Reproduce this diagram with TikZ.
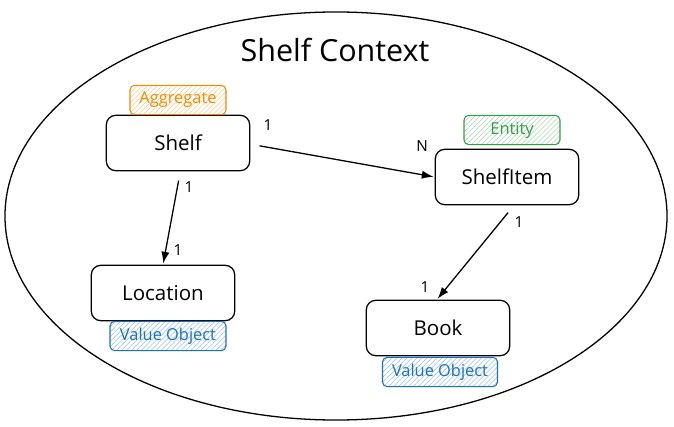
\documentclass[tikz,border=0pt]{standalone}
\usepackage{fontspec}
\setmainfont{Open Sans}
\usepackage{tikz}
\usetikzlibrary{positioning,arrows.meta,patterns.meta}

\definecolor{aggcol}{HTML}{F08C00}
\definecolor{entcol}{HTML}{2F9E44}
\definecolor{vocol}{HTML}{1971C2}

\begin{document}
\begin{tikzpicture}[
  x=0.03cm, y=0.03cm,
  >={Latex[length=10pt, width=7pt]},
  box/.style={draw, line width=1.1pt, rounded corners=8pt, align=center,
              minimum width=4.3cm, minimum height=1.66cm, font=\fontsize{17.5}{20}\selectfont},
  tag/.style={draw=#1, text=#1, line width=0.9pt, rounded corners=4pt,
              pattern={Lines[angle=45,distance=3pt,line width=0.45pt]}, pattern color=#1!45,
              minimum height=0.88cm, inner sep=2pt, font=\fontsize{14}{16}\selectfont},
  rel/.style={->, line width=1.1pt, shorten <=8pt, shorten >=1pt},
  card/.style={font=\fontsize{13}{15}\selectfont},
]
  \useasboundingbox (0,0) rectangle (674,-427);

  % bounded context
  \draw[line width=1.1pt] (336,-216) ellipse [x radius=9.93cm, y radius=6.12cm];
  \node[font=\fontsize{26}{30}\selectfont] (title) at (335,-50) {Shelf Context};

  % entities
  \node[box] (shelf) at (178,-143) {Shelf};
  \node[box] (item) at (507,-177) {ShelfItem};
  \node[box] (loc) at (163,-293) {Location};
  \node[box] (book) at (438,-328) {Book};

  % stereotypes
  \node[tag=aggcol, minimum width=2.88cm] (aggtag) at (178,-100) {Aggregate};
  \node[tag=entcol, minimum width=2.88cm] (enttag) at (512,-130) {Entity};
  \node[tag=vocol, minimum width=3.48cm] (lotag) at (168,-336) {Value Object};
  \node[tag=vocol, minimum width=3.45cm] (botag) at (440,-372) {Value Object};

  % relations
  \draw[rel] ([yshift=-1pt]shelf.east) -- (item.west);
  \draw[rel] ([xshift=2pt]shelf.south) -- (loc.north);
  \draw[rel] ([xshift=6pt]item.south) -- ([xshift=-1pt]book.north);

  % cardinalities
  \node[card] (c1) at (268,-125) {1};
  \node[card] (cn) at (422,-146) {N};
  \node[card] (c2) at (189,-187) {1};
  \node[card] (c3) at (178,-250) {1};
  \node[card] (c4) at (519,-222) {1};
  \node[card] (c5) at (425,-287) {1};
\end{tikzpicture}
\end{document}
